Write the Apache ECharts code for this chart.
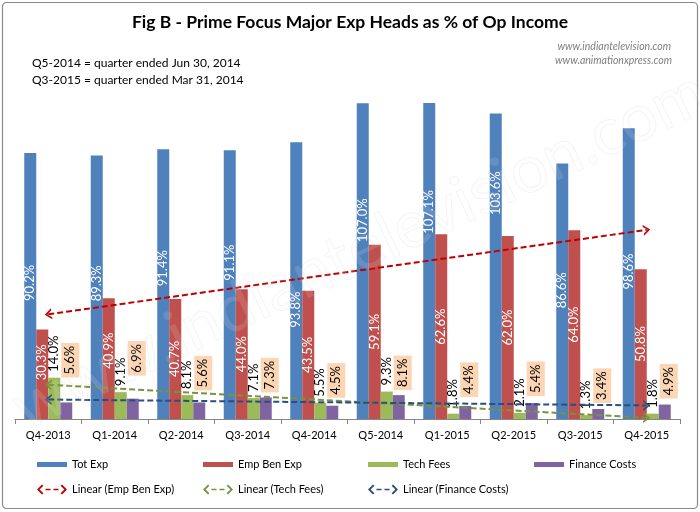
<!DOCTYPE html>
<html>
<head>
<meta charset="utf-8">
<script src="https://cdn.jsdelivr.net/npm/echarts@6/dist/echarts.min.js"></script>
<style>
html,body{margin:0;padding:0;background:#fff;}
#chart{width:700px;height:512px;}
</style>
</head>
<body>
<div id="chart"></div>
<script>
// ---- data ----
const categories = ['Q4-2013','Q1-2014','Q2-2014','Q3-2014','Q4-2014','Q5-2014','Q1-2015','Q2-2015','Q3-2015','Q4-2015'];
const totExp       = [90.2, 89.3, 91.4, 91.1, 93.8, 107.0, 107.1, 103.6, 86.6, 98.6];
const empBenExp    = [30.3, 40.9, 40.7, 44.0, 43.5, 59.1, 62.6, 62.0, 64.0, 50.8];
const techFees     = [14.0, 9.1, 8.1, 7.1, 5.5, 9.3, 1.8, 2.1, 1.3, 1.8];
const financeCosts = [5.6, 6.9, 5.6, 7.3, 4.5, 8.1, 4.4, 5.4, 3.4, 4.9];
// linear trendline values at first and last quarter
const trendEmpBen  = [35.5, 64.1];
const trendTech    = [11.6, 0.4];
const trendFinance = [6.6, 4.6];
const seriesNames = ['Tot Exp','Emp Ben Exp','Tech Fees','Finance Costs'];
const trendNames  = ['Linear (Emp Ben Exp)','Linear (Tech Fees)','Linear (Finance Costs)'];
const titleText = 'Fig B - Prime Focus Major Exp Heads as % of Op Income';
const noteLines = ['Q5-2014 = quarter ended Jun 30, 2014','Q3-2015 = quarter ended Mar 31, 2014'];
const siteLines = ['www.indiantelevision.com','www.animationxpress.com'];

// ---- label placement tweaks (styling only, pixels) ----
const totLabelLiftPx = [3, 4, 16, 22, -29, 41, 49, 73, 1, 2];
const empLabelLiftPx = [12, 8, 0, 0, 0, 0, 0, 0, 0, 0];
const finLabelLiftPx = [20, 18, 7, 0, 3, 0, 4, 2, 1, 1];

const FONT = 'Lato';
const pct = p => Number(p.value).toFixed(1) + '%';
const chev = 'path://M0,7L5.5,0L11,7L9,7L5.5,2.6L2,7Z';
const legendArrow = 'path://M0,5L5,0L6.4,1.2L2.6,5L6.4,8.8L5,10Z M8.5,4.2H13.5V5.8H8.5Z M16.5,4.2H21.5V5.8H16.5Z M30,5L25,0L23.6,1.2L27.4,5L23.6,8.8L25,10Z';

function withOffsets(values, lifts, side) {
  return values.map((v, i) => ({ value: v, label: { offset: [lifts[i], side || 0] } }));
}

function barSeries(name, color, data, label) {
  return {
    name, type: 'bar', data, barWidth: 12, barGap: '0%',
    itemStyle: { color },
    label: Object.assign({ show: true, rotate: 90, formatter: pct, fontFamily: FONT, fontSize: 13 }, label)
  };
}

function trendSeries(name, color, ends) {
  return {
    name, type: 'line', data: [], z: 6, color,
    lineStyle: { color, width: 2, type: [6, 3] },
    markLine: {
      silent: true, animation: false,
      symbol: [chev, chev], symbolSize: [11, 7],
      label: { show: false },
      emphasis: { disabled: true },
      lineStyle: { color, width: 2, type: [6, 3] },
      data: [[{ coord: [0, ends[0]] }, { coord: [categories.length - 1, ends[1]] }]]
    }
  };
}

const barColors = ['#4F81BD', '#C0504D', '#9BBB59', '#8064A2'];
const trendColors = ['#C00000', '#77933C', '#2A4E7E'];
const legendX = [37, 203, 368, 534];

const legends = [];
seriesNames.forEach((n, i) => legends.push({
  data: [n], left: legendX[i], top: 459, padding: 0, icon: 'rect',
  itemWidth: 30, itemHeight: 5, selectedMode: false,
  textStyle: { fontFamily: FONT, fontSize: 11, color: '#000' }
}));
trendNames.forEach((n, i) => legends.push({
  data: [{ name: n, icon: legendArrow }], left: legendX[i], top: 484, padding: 0,
  itemWidth: 30, itemHeight: 10, selectedMode: false, itemStyle: { borderWidth: 0 },
  textStyle: { fontFamily: FONT, fontSize: 11, color: '#000' }
}));

const option = {
  animation: false,
  textStyle: { fontFamily: FONT },
  title: {
    text: titleText, left: 'center', top: 13, padding: 0,
    textStyle: { fontFamily: FONT, fontWeight: 'bold', fontSize: 17.5, color: '#000' }
  },
  legend: legends,
  grid: { left: 15, right: 20, top: 65, bottom: 93, containLabel: false },
  xAxis: {
    type: 'category', data: categories, boundaryGap: true,
    axisLine: { lineStyle: { color: '#868686', width: 1 } },
    axisTick: { show: true, length: 5, lineStyle: { color: '#868686' } },
    axisLabel: { color: '#000', fontFamily: FONT, fontSize: 11, margin: 11 }
  },
  yAxis: { type: 'value', min: 0, max: 120, show: false, splitLine: { show: false } },
  series: [
    barSeries(seriesNames[0], barColors[0], withOffsets(totExp, totLabelLiftPx), { position: 'inside', color: '#fff' }),
    barSeries(seriesNames[1], barColors[1], withOffsets(empBenExp, empLabelLiftPx), { position: 'inside', color: '#fff' }),
    barSeries(seriesNames[2], barColors[2], techFees, { position: 'top', distance: 6, align: 'left', verticalAlign: 'middle', color: '#000' }),
    barSeries(seriesNames[3], barColors[3], withOffsets(financeCosts, finLabelLiftPx, 4), {
      position: 'top', distance: 5, align: 'left', verticalAlign: 'middle', color: '#000',
      backgroundColor: '#FCD5B4', padding: [3, 3, 2, 3]
    }),
    trendSeries(trendNames[0], trendColors[0], trendEmpBen),
    trendSeries(trendNames[1], trendColors[1], trendTech),
    trendSeries(trendNames[2], trendColors[2], trendFinance)
  ],
  graphic: [
    { type: 'rect', silent: true, z: -1, shape: { x: 2.5, y: 2.5, width: 695, height: 506, r: 4 },
      style: { fill: 'none', stroke: '#8a8a8a', lineWidth: 1.2 } },
    { type: 'text', left: 32, top: 57, silent: true,
      style: { text: noteLines[0], font: '12px Lato', fill: '#000' } },
    { type: 'text', left: 32, top: 74, silent: true,
      style: { text: noteLines[1], font: '12px Lato', fill: '#000' } },
    { type: 'text', right: 29, top: 41, silent: true,
      style: { text: siteLines[0], font: 'italic 10.5px Lato', fill: '#808080' } },
    { type: 'text', right: 28, top: 55, silent: true,
      style: { text: siteLines[1], font: 'italic 10.5px Lato', fill: '#808080' } },
    { type: 'text', x: 360, y: 250, rotation: 0.44, silent: true, z: 100,
      style: { text: siteLines[0], font: '66px Lato', align: 'center', verticalAlign: 'middle',
        fill: 'rgba(255,255,255,0.12)', stroke: 'rgba(160,160,160,0.12)', lineWidth: 1 } }
  ]
};

const chart = echarts.init(document.getElementById('chart'), null, { renderer: 'canvas' });
chart.setOption(option);
</script>
</body>
</html>
